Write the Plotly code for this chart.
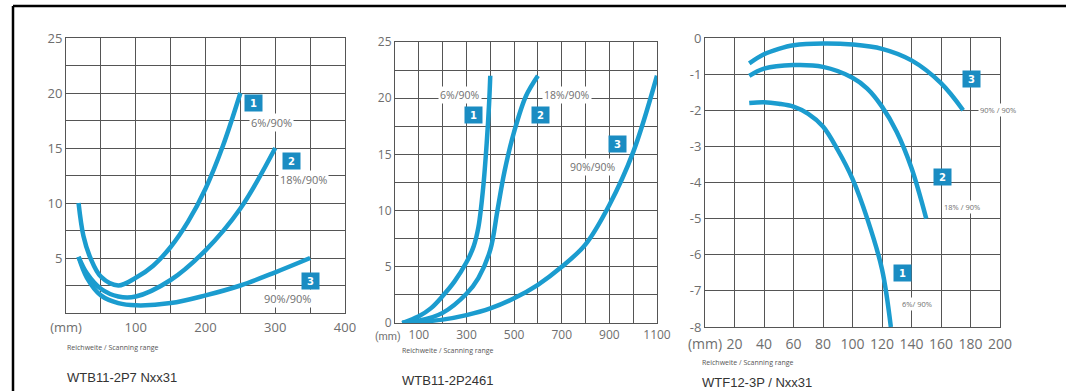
import plotly.graph_objects as go

W, H = 1066, 391

# ---------- data ----------
# Panel 1: WTB11-2P7 Nxx31
p1_c1_x = [18, 25, 35, 50, 75, 100, 125, 150, 175, 200, 225, 250]
p1_c1_y = [10, 7, 5, 3.3, 2.5, 3.2, 4.3, 6, 8.3, 11.3, 15.2, 20]
p1_c2_x = [18, 30, 50, 75, 100, 150, 200, 250, 300]
p1_c2_y = [5.1, 3.6, 2.2, 1.5, 1.5, 3, 5.7, 9.5, 15]
p1_c3_x = [18, 30, 50, 75, 100, 150, 200, 250, 300, 350]
p1_c3_y = [5.1, 3.2, 1.6, 0.9, 0.7, 0.9, 1.6, 2.5, 3.7, 5]

# Panel 2: WTB11-2P2461
p2_c1_x = [30, 100, 150, 200, 250, 300, 330, 350, 370, 385, 395, 400]
p2_c1_y = [0, 0.6, 1.3, 2.4, 3.7, 5.4, 6.8, 8.5, 12, 16, 19.5, 22]
p2_c2_x = [30, 100, 200, 300, 350, 400, 430, 460, 500, 550, 600]
p2_c2_y = [0, 0.2, 0.9, 2.6, 4, 6.5, 10, 13.5, 17, 20.2, 22]
p2_c3_x = [30, 200, 300, 400, 500, 600, 700, 800, 900, 1000, 1100]
p2_c3_y = [0, 0.3, 0.7, 1.3, 2.2, 3.4, 5, 7, 10.5, 15.2, 22]

# Panel 3: WTF12-3P / Nxx31
p3_c1_x = [30, 40, 50, 60, 70, 80, 90, 100, 110, 120, 126]
p3_c1_y = [-1.8, -1.78, -1.82, -1.9, -2.1, -2.45, -3.1, -3.9, -5, -6.4, -8]
p3_c2_x = [30, 40, 60, 80, 100, 110, 120, 130, 140, 150]
p3_c2_y = [-1.05, -0.85, -0.75, -0.8, -1.1, -1.4, -1.9, -2.6, -3.6, -5]
p3_c3_x = [30, 40, 50, 60, 80, 100, 120, 140, 160, 175]
p3_c3_y = [-0.7, -0.45, -0.3, -0.2, -0.15, -0.18, -0.3, -0.62, -1.25, -2]

# tick labels
p1_xticks = [0, 50, 100, 150, 200, 250, 300, 350, 400]
p1_xtext = ["(mm)", "", "100", "", "200", "", "300", "", "400"]
p1_yticks = [0, 2.5, 5, 7.5, 10, 12.5, 15, 17.5, 20, 22.5, 25]
p1_ytext = ["", "", "5", "", "10", "", "15", "", "20", "", "25"]
p2_xticks = [0, 100, 200, 300, 400, 500, 600, 700, 800, 900, 1000, 1100]
p2_xtext = ["", "100", "", "300", "", "500", "", "700", "", "900", "", "1100"]
p2_yticks = [0, 2.5, 5, 7.5, 10, 12.5, 15, 17.5, 20, 22.5, 25]
p2_ytext = ["0", "", "5", "", "10", "", "15", "", "20", "", "25"]
p3_xticks = [0, 20, 40, 60, 80, 100, 120, 140, 160, 180, 200]
p3_xtext = ["(mm)", "20", "40", "60", "80", "100", "120", "140", "160", "180", "200"]
p3_yticks = [0, -1, -2, -3, -4, -5, -6, -7, -8]
p3_ytext = ["0", "-1", "-2", "-3", "-4", "-5", "-6", "-7", "-8"]
unit_label = "(mm)"

titles = ["WTB11-2P7 Nxx31", "WTB11-2P2461", "WTF12-3P / Nxx31"]
subtitle = "Reichweite / Scanning range"
ratio_labels = [["6%/90%", "18%/90%", "90%/90%"],
                ["6%/90%", "18%/90%", "90%/90%"],
                ["6%/ 90%", "18% / 90%", "90% / 90%"]]

# ---------- style ----------
CURVE = "#1b9ccf"
BOX = "#1a8cc2"
GRID = "#555555"
TICKC = "#6e6e6e"
FONT = "Open Sans"


def px2px(x0, x1):
    return [x0 / W, x1 / W]


def py2py(top, bottom):
    return [1 - bottom / H, 1 - top / H]


fig = go.Figure()

panels = [
    ("x", "y", [(p1_c1_x, p1_c1_y), (p1_c2_x, p1_c2_y), (p1_c3_x, p1_c3_y)]),
    ("x2", "y2", [(p2_c1_x, p2_c1_y), (p2_c2_x, p2_c2_y), (p2_c3_x, p2_c3_y)]),
    ("x3", "y3", [(p3_c1_x, p3_c1_y), (p3_c2_x, p3_c2_y), (p3_c3_x, p3_c3_y)]),
]
for xa, ya, curves in panels:
    for cx, cy in curves:
        fig.add_trace(go.Scatter(x=cx, y=cy, xaxis=xa, yaxis=ya, mode="lines",
                                 line=dict(color=CURVE, width=4.5, shape="spline", smoothing=1.0),
                                 showlegend=False, hoverinfo="skip"))


def axis(domain, rng, tv, tt, anchor, size, standoff=None):
    d = dict(domain=domain, range=rng, tickvals=tv, ticktext=tt, anchor=anchor,
             showgrid=True, gridcolor=GRID, gridwidth=1, zeroline=False,
             showline=True, linecolor=GRID, linewidth=1, mirror=True,
             ticks="", tickangle=0, automargin=False,
             tickfont=dict(family=FONT, size=size, color=TICKC),
             fixedrange=True)
    if standoff is not None:
        d["ticklabelstandoff"] = standoff
    return d


fig.update_layout(
    width=W, height=H, margin=dict(l=0, r=0, t=0, b=0, pad=0, autoexpand=False),
    paper_bgcolor="white", plot_bgcolor="white",
    xaxis=axis(px2px(66, 345), [0, 400], p1_xticks, p1_xtext, "y", 13, 2),
    yaxis=axis(py2py(38, 313), [0, 25], p1_yticks, p1_ytext, "x", 13),
    xaxis2=axis(px2px(395, 657), [0, 1100], p2_xticks, p2_xtext, "y2", 12, 1),
    yaxis2=axis(py2py(42, 323), [0, 25], p2_yticks, p2_ytext, "x2", 12),
    xaxis3=axis(px2px(705, 1000), [0, 200], p3_xticks, p3_xtext, "y3", 14, 4),
    yaxis3=axis(py2py(38, 327), [-8, 0], p3_yticks, p3_ytext, "x3", 13),
)

ann = []


def numbox(txt, x, y, xr, yr):
    ann.append(dict(text="<b>%s</b>" % txt, x=x, y=y, xref=xr, yref=yr, showarrow=False,
                    font=dict(family="DejaVu Sans", size=10, color="white"),
                    bgcolor=BOX, borderpad=2, width=13, height=12))


def ratio(txt, x, y, xr, yr, size):
    ann.append(dict(text=txt, x=x, y=y, xref=xr, yref=yr, showarrow=False,
                    font=dict(family=FONT, size=size, color="#707070"),
                    bgcolor="white", borderpad=1))


# panel 1 labels
ratio(ratio_labels[0][0], 294, 17.3, "x", "y", 11)
ratio(ratio_labels[0][1], 341, 12.1, "x", "y", 11)
ratio(ratio_labels[0][2], 317, 1.36, "x", "y", 11)
numbox("1", 269.5, 19.1, "x", "y")
numbox("2", 322.6, 13.8, "x", "y")
numbox("3", 351, 2.9, "x", "y")
# panel 2 labels
ratio(ratio_labels[1][0], 273, 20.3, "x2", "y2", 10.5)
ratio(ratio_labels[1][1], 724, 20.3, "x2", "y2", 10.5)
ratio(ratio_labels[1][2], 831, 13.9, "x2", "y2", 10.5)
numbox("1", 330, 18.5, "x2", "y2")
numbox("2", 609, 18.5, "x2", "y2")
numbox("3", 936, 15.9, "x2", "y2")
# panel 3 labels
ratio(ratio_labels[2][0], 144, -7.36, "x3", "y3", 7.5)
ratio(ratio_labels[2][1], 174, -4.68, "x3", "y3", 7.5)
ratio(ratio_labels[2][2], 198.6, -1.99, "x3", "y3", 7.5)
numbox("1", 133.6, -6.5, "x3", "y3")
numbox("2", 160.7, -3.85, "x3", "y3")
numbox("3", 181, -1.13, "x3", "y3")

# "(mm)" unit of panel 2, squeezed left of the "100" label
ann.append(dict(text=unit_label, x=403 / W, y=1 - 336 / H, xref="paper", yref="paper",
                xanchor="right", yanchor="middle", showarrow=False,
                font=dict(family="Roboto", size=10.5, color=TICKC)))

# subtitles & titles
for xl, ysub, ytit, t in [(65, 347, 377, titles[0]), (400, 350, 380, titles[1]), (700, 362, 382, titles[2])]:
    ann.append(dict(text=subtitle, x=xl / W, y=1 - ysub / H, xref="paper", yref="paper",
                    xanchor="left", yanchor="middle", showarrow=False,
                    font=dict(family=FONT, size=7, color="#555555")))
    ann.append(dict(text=t, x=xl / W, y=1 - ytit / H, xref="paper", yref="paper",
                    xanchor="left", yanchor="middle", showarrow=False,
                    font=dict(family="Liberation Sans", size=13, color="#333333")))

fig.update_layout(annotations=ann)

# outer frame (top and left edges visible)
fig.add_shape(type="line", xref="paper", yref="paper", x0=13 / W, x1=1.0, y0=1 - 6 / H, y1=1 - 6 / H,
              line=dict(color="black", width=2.5))
fig.add_shape(type="line", xref="paper", yref="paper", x0=13 / W, x1=13 / W, y0=0, y1=1 - 6 / H,
              line=dict(color="black", width=2.5))

fig.write_html("out.html", config={"responsive": False, "displayModeBar": False},
               post_script="document.body.style.margin='0px';document.body.style.overflow='hidden';")
